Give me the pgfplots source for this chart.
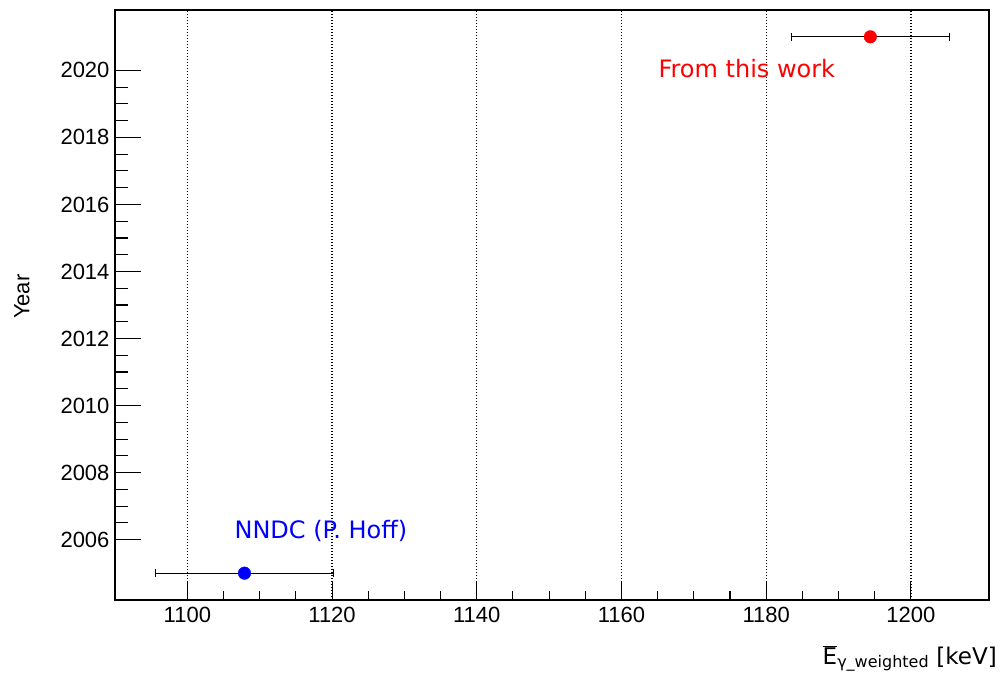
\documentclass[border=0pt]{standalone}
\usepackage{fontspec}
\setmainfont{Liberation Sans}
\newfontfamily\dejavu{DejaVu Sans}
\usepackage{pgfplots}
\pgfplotsset{compat=1.18}
\pgfplotsset{
  common/.style={
    scale only axis,
    width=874pt, height=590pt,
    xmin=1090, xmax=1210.8,
    ymin=2004.2, ymax=2021.8,
    tick pos=left,
    tick align=inside,
    axis line style={line width=1.3pt, black},
    every tick/.style={black, line width=1.1pt},
    /pgf/number format/assume math mode=true,
    /pgf/number format/1000 sep={},
    tick label style={font=\fontsize{22}{26}\selectfont},
  }
}
\begin{document}
\begin{tikzpicture}
\useasboundingbox (-115pt,-77pt) rectangle (888pt,600pt);
% y-axis ticks and labels
\begin{axis}[
  common,
  xtick=\empty,
  ytick={2006,2008,...,2020},
  minor y tick num=3,
  major tick length=26pt, minor tick length=13pt,
  yticklabel style={xshift=-2pt},
]
\end{axis}
\begin{axis}[
  common,
  xtick={1100,1120,...,1200},
  ytick=\empty,
  minor x tick num=3,
  major tick length=18pt, minor tick length=9pt,
  xmajorgrids,
  major x grid style={black, dash pattern=on 1.3pt off 1.7pt, line width=1.3pt},
  xticklabel style={yshift=-4pt},
  clip=false,
]
\addplot+[only marks, mark=*, mark size=6.3pt, color=blue,
  mark options={fill=blue, draw=blue},
  error bars/.cd, x dir=both, x explicit,
  error bar style={black, line width=1.1pt},
  error mark=|, error mark options={black, mark size=4pt, line width=1.1pt}]
  coordinates {(1107.9,2005) +- (12.3,0)};
\addplot+[only marks, mark=*, mark size=6.3pt, color=red,
  mark options={fill=red, draw=red},
  error bars/.cd, x dir=both, x explicit,
  error bar style={black, line width=1.1pt},
  error mark=|, error mark options={black, mark size=4pt, line width=1.1pt}]
  coordinates {(1194.4,2021) +- (10.9,0)};
\node[anchor=base west, text=blue, inner sep=0pt, font=\dejavu\fontsize{24}{28}\selectfont] at (axis cs:1106.5,2006.03) {NNDC (P. Hoff)};
\node[anchor=base west, text=red, inner sep=0pt, font=\dejavu\fontsize{24}{28}\selectfont] at (axis cs:1165.1,2019.79) {From this work};
\node[anchor=base east, inner sep=0pt, font=\dejavu\fontsize{23}{26}\selectfont, xshift=8pt, yshift=-64pt] at (rel axis cs:1,0) {$\overline{\mbox{E}}_{\mbox{\dejavu\fontsize{16}{18}\selectfont γ\_weighted}}$ [keV]};
\node[xshift=-93pt, rotate=90, inner sep=0pt, font=\fontsize{22}{26}\selectfont] at (rel axis cs:0,0.514) {Year};
\end{axis}
\end{tikzpicture}
\end{document}
